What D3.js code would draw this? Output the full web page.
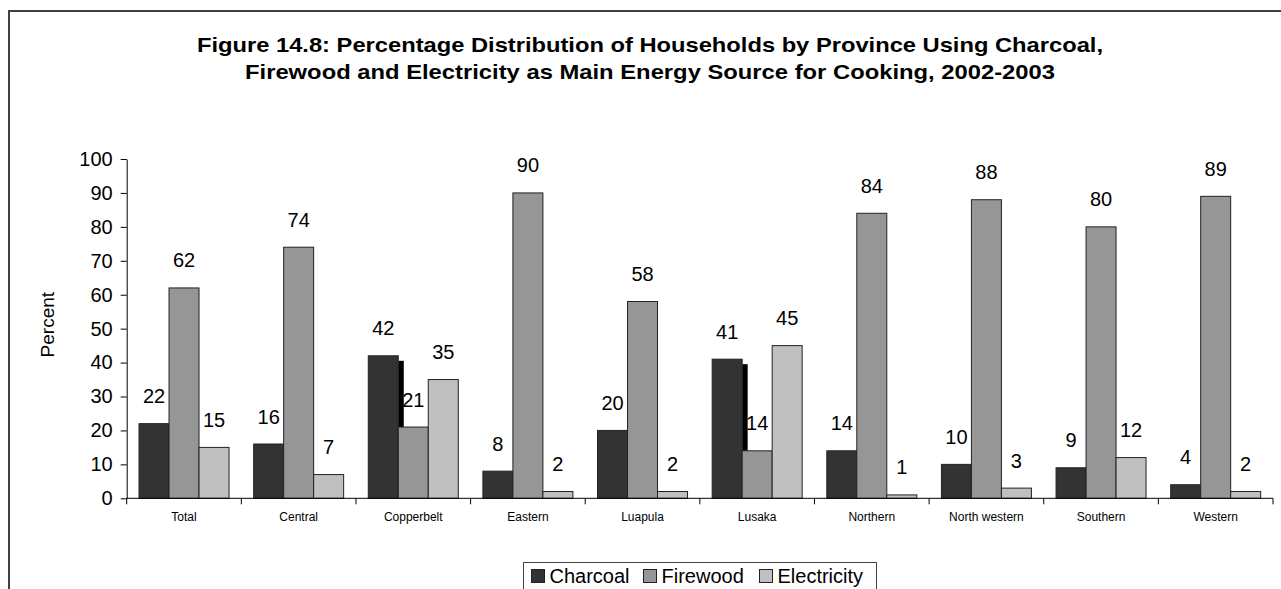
<!DOCTYPE html>
<html>
<head>
<meta charset="utf-8">
<script src="https://cdn.jsdelivr.net/npm/d3@7/dist/d3.min.js"></script>
<style>
  html, body { margin: 0; padding: 0; background: #fff; }
  svg { display: block; font-family: "Liberation Sans", Arial, sans-serif; }
</style>
</head>
<body>
<svg id="chart" width="1281" height="589"></svg>
<script>
// Households by province and main cooking energy source (percent)
const provinces = ["Total", "Central", "Copperbelt", "Eastern", "Luapula", "Lusaka",
                   "Northern", "North western", "Southern", "Western"];
const seriesNames = ["Charcoal", "Firewood", "Electricity"];
const charcoal    = [22, 16, 42, 8, 20, 41, 14, 10, 9, 4];
const firewood    = [62, 74, 21, 90, 58, 14, 84, 88, 80, 89];
const electricity = [15, 7, 35, 2, 2, 45, 1, 3, 12, 2];
const yTicks = [0, 10, 20, 30, 40, 50, 60, 70, 80, 90, 100];
const titleLines = [
  "Figure 14.8: Percentage Distribution of Households by Province Using Charcoal,",
  "Firewood and Electricity as Main Energy Source for Cooking, 2002-2003"
];
const titleWidths = [906, 810];

const colors = { Charcoal: "#333333", Firewood: "#969696", Electricity: "#c0c0c0" };
const seriesValues = { Charcoal: charcoal, Firewood: firewood, Electricity: electricity };

const svg = d3.select("#chart");

// Outer frame (top and left edges visible)
svg.append("path")
  .attr("d", "M9,589 V11 H1281")
  .attr("fill", "none").attr("stroke", "#404040").attr("stroke-width", 2);

// Title, stretched to its typeset line widths
titleLines.forEach((t, i) => {
  svg.append("text")
    .attr("x", 650 - titleWidths[i] / 2)
    .attr("y", 52 + i * 26.6)
    .attr("font-weight", "bold")
    .attr("font-size", 21)
    .attr("fill", "#000")
    .attr("textLength", titleWidths[i])
    .attr("lengthAdjust", "spacingAndGlyphs")
    .text(t);
});

// Scales
const plotLeft = 126.7, plotRight = 1273, plotTop = 159, plotBottom = 498.3;
const x = d3.scaleBand().domain(provinces).range([plotLeft, plotRight]).padding(0);
const band = x.bandwidth();
const barW = band * 0.2617;
const xs = d3.scaleBand().domain(seriesNames)
  .range([(band - 3 * barW) / 2, (band + 3 * barW) / 2]).padding(0);
const y = d3.scaleLinear().domain([0, 100]).range([plotBottom, plotTop]);

// Y axis
const yAxis = svg.append("g")
  .attr("transform", `translate(${plotLeft},0)`)
  .call(d3.axisLeft(y).tickValues(yTicks).tickSize(6).tickSizeOuter(0).tickPadding(8));
yAxis.select(".domain").attr("stroke", "#000");
yAxis.selectAll(".tick line").attr("stroke", "#000");
yAxis.selectAll(".tick text")
  .attr("font-size", 20).attr("fill", "#000")
  .attr("font-family", "Liberation Sans, Arial, sans-serif");

// Y axis title
svg.append("text")
  .attr("transform", `translate(54,${(plotTop + plotBottom) / 2 - 4}) rotate(-90)`)
  .attr("text-anchor", "middle")
  .attr("font-size", 19)
  .attr("fill", "#000")
  .text("Percent");

// Groups
const groups = svg.append("g").selectAll("g")
  .data(provinces)
  .join("g")
  .attr("transform", d => `translate(${x(d)},0)`);

// Dark side strip on charcoal bars that stand taller than the firewood bar
groups.each(function(p, i) {
  if (charcoal[i] > firewood[i]) {
    d3.select(this).append("rect")
      .attr("x", xs("Charcoal") + barW)
      .attr("y", y(charcoal[i]) + 5)
      .attr("width", 5.5)
      .attr("height", y(firewood[i]) - y(charcoal[i]) - 5)
      .attr("fill", "#000");
  }
});

// Bars
seriesNames.forEach(s => {
  groups.append("rect")
    .attr("x", xs(s))
    .attr("y", (p, i) => y(seriesValues[s][i]))
    .attr("width", barW)
    .attr("height", (p, i) => plotBottom - y(seriesValues[s][i]))
    .attr("fill", colors[s])
    .attr("stroke", "#222")
    .attr("stroke-width", 1);
});

// Value labels
seriesNames.forEach(s => {
  groups.append("text")
    .attr("x", xs(s) + barW / 2)
    .attr("y", (p, i) => y(seriesValues[s][i]) - 20.5)
    .attr("text-anchor", "middle")
    .attr("font-size", 20)
    .attr("fill", "#000")
    .text((p, i) => seriesValues[s][i]);
});

// X axis with ticks at category boundaries
const xAxisG = svg.append("g").attr("transform", `translate(0,${plotBottom})`);
xAxisG.append("line")
  .attr("x1", plotLeft).attr("x2", plotRight)
  .attr("stroke", "#000");
const boundaries = provinces.map(p => x(p)).concat([plotRight]);
xAxisG.selectAll("line.tk").data(boundaries).join("line")
  .attr("class", "tk")
  .attr("x1", d => d).attr("x2", d => d)
  .attr("y1", 0).attr("y2", 6)
  .attr("stroke", "#000");
xAxisG.selectAll("text").data(provinces).join("text")
  .attr("x", d => x(d) + band / 2)
  .attr("y", 23)
  .attr("text-anchor", "middle")
  .attr("font-size", 12)
  .attr("fill", "#000")
  .text(d => d);

// Legend
const legend = svg.append("g");
legend.append("rect")
  .attr("x", 523.5).attr("y", 562.5)
  .attr("width", 353).attr("height", 40)
  .attr("fill", "#fff").attr("stroke", "#444").attr("stroke-width", 1);
const legendX = [531.5, 643.5, 759.5];
seriesNames.forEach((s, i) => {
  legend.append("rect")
    .attr("x", legendX[i]).attr("y", 569.5)
    .attr("width", 13).attr("height", 13)
    .attr("fill", colors[s]).attr("stroke", "#222");
  legend.append("text")
    .attr("x", legendX[i] + 18).attr("y", 583)
    .attr("font-size", 20)
    .attr("fill", "#000")
    .text(s);
});
</script>
</body>
</html>
